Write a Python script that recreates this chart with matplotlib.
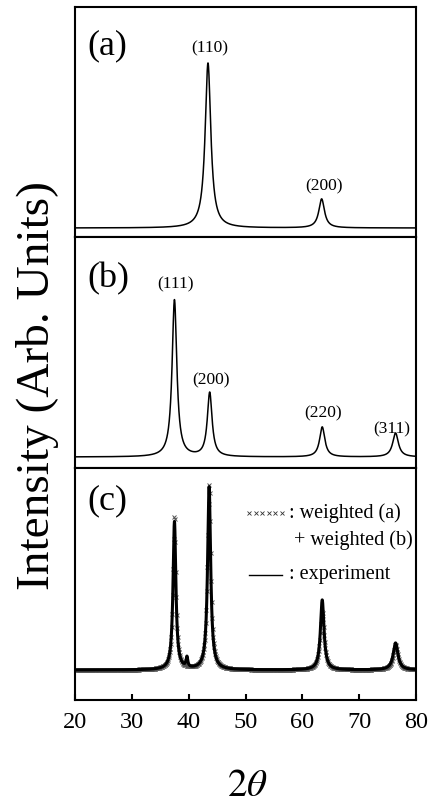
import numpy as np
import matplotlib
matplotlib.use("Agg")
import matplotlib.pyplot as plt
from matplotlib.lines import Line2D

plt.rcParams['font.family'] = ['Liberation Serif', 'DejaVu Serif']
plt.rcParams['mathtext.fontset'] = 'stix'

# ---------------- data ----------------
# panel (a): peak positions (2theta), heights (arb.), widths (FWHM, deg), labels
a_pos = [43.4, 63.4]
a_int = [165, 29]
a_fwhm = [1.2, 1.2]
a_hkl = ['(110)', '(200)']

# panel (b)
b_pos = [37.5, 43.7, 63.5, 76.4]
b_int = [157, 64, 30, 24]
b_fwhm = [1.0, 1.0, 1.1, 1.2]
b_hkl = ['(111)', '(200)', '(220)', '(311)']

# panel (c): weighted simulation and experiment
c_sim_pos = [37.5, 43.6, 63.5, 76.4]
c_sim_int = [155, 185, 58, 25]
c_sim_fwhm = [0.6, 0.65, 0.8, 1.0]

c_exp_pos = [37.5, 39.7, 43.6, 63.5, 76.4]
c_exp_int = [148, 10, 183, 70, 27]
c_exp_fwhm = [0.6, 0.35, 0.65, 0.75, 1.0]

x_ticks = [20, 30, 40, 50, 60, 70, 80]
panel_tags = ['(a)', '(b)', '(c)']

# label anchor positions for hkl annotations (2theta, height)
a_lab_x = [43.7, 63.9]
a_lab_y = [180, 42]
b_lab_x = [37.7, 43.9, 63.7, 75.8]
b_lab_y = [173, 77, 44, 28]


def profile(x, pos, inten, fwhm):
    y = np.zeros_like(x)
    for p, h, w in zip(pos, inten, fwhm):
        g = w / 2.0
        y += h * g ** 2 / ((x - p) ** 2 + g ** 2)
    return y


tt = np.linspace(20, 80, 4001)
ya = profile(tt, a_pos, a_int, a_fwhm)
yb = profile(tt, b_pos, b_int, b_fwhm)
tt_sim = np.arange(20, 80.001, 0.09)
yc_sim = profile(tt_sim, c_sim_pos, c_sim_int, c_sim_fwhm)
yc_exp = profile(tt, c_exp_pos, c_exp_int, c_exp_fwhm)

# ---------------- figure ----------------
W, H = 437, 808
fig = plt.figure(figsize=(W / 100, H / 100), dpi=100)

left = 75 / W
right = 416 / W
bounds = [(7, 237), (237, 468), (468, 700)]
ylims = [(-9, 221), (-11, 220), (-30, 202)]
axes = []
for (t, b), yl in zip(bounds, ylims):
    ax = fig.add_axes([left, 1 - b / H, right - left, (b - t) / H])
    ax.set_xlim(20, 80)
    ax.set_ylim(*yl)
    ax.set_yticks([])
    for s in ax.spines.values():
        s.set_linewidth(1.5)
    axes.append(ax)

ax_a, ax_b, ax_c = axes
for ax in (ax_a, ax_b):
    ax.set_xticks([])

ax_a.plot(tt, ya, color='black', lw=1.1)
ax_b.plot(tt, yb, color='black', lw=1.1)

ax_c.plot(tt_sim, yc_sim, ls='none', marker='x', ms=3.2, mew=0.7,
          color='#555555', zorder=2)
ax_c.plot(tt, yc_exp, color='black', lw=2.2, zorder=3)

ax_c.set_xticks(x_ticks)
ax_c.set_xticklabels([str(v) for v in x_ticks])
ax_c.tick_params(axis='x', direction='in', length=4, width=1.5,
                 labelsize=17.5, pad=9)

# hkl labels
for x, y, s in zip(a_lab_x, a_lab_y, a_hkl):
    ax_a.text(x, y, s, ha='center', va='center', fontsize=12.5)
for x, y, s in zip(b_lab_x, b_lab_y, b_hkl):
    ax_b.text(x, y, s, ha='center', va='center', fontsize=12.5)

# panel tags
tag_y = [0.905, 0.89, 0.93]
for ax, tag, ty in zip(axes, panel_tags, tag_y):
    ax.text(0.035, ty, tag, transform=ax.transAxes, fontsize=26,
            ha='left', va='top')

# legend in panel (c)
lx0, lx1 = (249 - 75) / 341, (282 - 75) / 341
ty1 = 1 - (513 - 468) / 232
ty2 = 1 - (540 - 468) / 232
ty3 = 1 - (575 - 468) / 232
ax_c.plot(np.linspace(lx0, lx1, 6), [ty1] * 6, ls='none', marker='x', ms=2.3,
          mew=0.6, color='#333333', transform=ax_c.transAxes, clip_on=False)
ax_c.text((289 - 75) / 341, ty1, ': weighted (a)', transform=ax_c.transAxes,
          fontsize=14.5, ha='left', va='center')
ax_c.text((294 - 75) / 341, ty2, '+ weighted (b)', transform=ax_c.transAxes,
          fontsize=14.5, ha='left', va='center')
ax_c.add_line(Line2D([lx0, lx1], [ty3, ty3], color='black', lw=1.0,
                     transform=ax_c.transAxes))
ax_c.text((289 - 75) / 341, ty3, ': experiment', transform=ax_c.transAxes,
          fontsize=14.5, ha='left', va='center')

# axis labels
fig.text(38 / W, 1 - 385 / H, 'Intensity (Arb. Units)', rotation=90,
         ha='center', va='center', fontsize=34)
fig.text(247 / W, 1 - 786 / H, r'$2\theta$', ha='center', va='center',
         fontsize=28)

fig.savefig('out.png', dpi=100)
